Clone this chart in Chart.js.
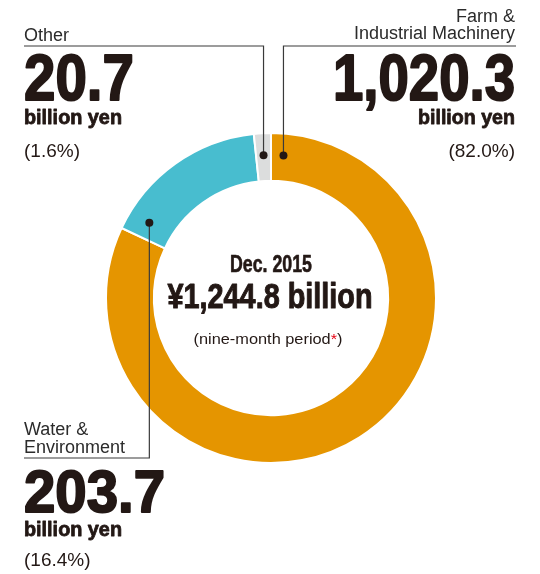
<!DOCTYPE html>
<html><head><meta charset="utf-8">
<script src="https://cdn.jsdelivr.net/npm/chart.js@4/dist/chart.umd.min.js"></script>
<style>html,body{margin:0;padding:0;background:#fff;} #wrap{position:relative;width:540px;height:574px;}</style>
</head><body><div id="wrap"><canvas id="c" width="540" height="574"></canvas></div>
<script>
// ---- data ----
const categories = [['Farm &', 'Industrial Machinery'], ['Water &', 'Environment'], ['Other']];
const values = [1020.3, 203.7, 20.7];          // billion yen
const shares = [82.0, 16.4, 1.6];              // percent
const totalValue = 1244.8;                     // billion yen
const periodLabel = 'Dec. 2015';
const periodNote = '(nine-month period';
const unitLabel = 'billion yen';

// ---- styles ----
const colors = ['#E59500', '#48BDCF', '#DCDDDD'];
const TXT = '#231815';
const LINE = '#3a3a3a';
const FONT = '"Liberation Sans", Arial, Helvetica, sans-serif';

// label layout (style only)
const layout = [
  { align: 'right', x: 515, nameY: [22, 39], elbowY: 46, endX: 516, angOff: 5, numY: 100, numW: 182, numSize: 65, unitY: 124, unitW: 97, pctY: 157 },
  { align: 'left',  x: 24,  nameY: [435, 453], elbowY: 458, endX: 24, angOff: 6.6, numY: 512, numW: 141, numSize: 60, unitY: 536, unitW: 98, pctY: 566 },
  { align: 'left',  x: 24,  nameY: [41], elbowY: 46, endX: 24, angOff: null, numY: 100, numW: 110, numSize: 65, unitY: 124, unitW: 98, pctY: 157 }
];

function fmt(v) { return v.toLocaleString('en-US', { minimumFractionDigits: 1, maximumFractionDigits: 1 }); }

function drawText(ctx, s, x, y, o) {
  ctx.font = (o.weight || 'normal') + ' ' + o.size + 'px ' + FONT;
  const m = ctx.measureText(s).width;
  const sx = o.width ? o.width / m : (o.sx || 1);
  const w = m * sx;
  const left = o.align === 'right' ? x - w : (o.align === 'center' ? x - w / 2 : x);
  ctx.save();
  ctx.translate(left, y);
  ctx.scale(sx, 1);
  ctx.textAlign = 'left';
  ctx.textBaseline = 'alphabetic';
  ctx.fillStyle = o.color || TXT;
  ctx.fillText(s, 0, 0);
  if (o.stroke) {
    ctx.strokeStyle = o.color || TXT;
    ctx.lineWidth = o.stroke;
    ctx.lineJoin = 'round';
    ctx.strokeText(s, 0, 0);
  }
  ctx.restore();
  return w;
}

const annotate = {
  id: 'annotate',
  afterDraw(chart) {
    const ctx = chart.ctx;
    const arcs = chart.getDatasetMeta(0).data;
    arcs.forEach((arc, i) => {
      const L = layout[i];
      const a = L.angOff === null ? (arc.startAngle + arc.endAngle) / 2 : arc.startAngle + L.angOff * Math.PI / 180;
      const r = arc.innerRadius + 0.54 * (arc.outerRadius - arc.innerRadius);
      const px = arc.x + r * Math.cos(a), py = arc.y + r * Math.sin(a);
      // leader line
      ctx.save();
      ctx.strokeStyle = LINE; ctx.lineWidth = 1.2;
      ctx.beginPath();
      ctx.moveTo(px, py); ctx.lineTo(px, L.elbowY); ctx.lineTo(L.endX, L.elbowY);
      ctx.stroke();
      ctx.fillStyle = TXT;
      ctx.beginPath(); ctx.arc(px, py, 4, 0, Math.PI * 2); ctx.fill();
      ctx.restore();
      // name
      categories[i].forEach((line, k) => drawText(ctx, line, L.x, L.nameY[k], { size: 18, align: L.align, color: '#2b2b2b' }));
      // number
      drawText(ctx, fmt(values[i]), L.x, L.numY, { size: L.numSize, weight: 'bold', align: L.align, width: L.numW, stroke: 2 });
      drawText(ctx, unitLabel, L.x, L.unitY, { size: 20, weight: 'bold', align: L.align, width: L.unitW, stroke: 0.8 });
      drawText(ctx, '(' + fmt(shares[i]) + '%)', L.x, L.pctY, { size: 19, align: L.align });
    });
    // centre
    const cx = arcs[0].x;
    drawText(ctx, periodLabel, cx, 272, { size: 23, weight: 'bold', align: 'center', width: 82, stroke: 0.6 });
    drawText(ctx, '¥' + fmt(totalValue) + ' billion', cx - 1, 308, { size: 35, weight: 'bold', align: 'center', width: 205, stroke: 1 });
    // note with red asterisk
    ctx.font = '15px ' + FONT;
    const p1 = periodNote, p2 = '*', p3 = ')';
    const w1 = ctx.measureText(p1).width, w2 = ctx.measureText(p2).width, w3 = ctx.measureText(p3).width;
    const sx = 149 / (w1 + w2 + w3);
    let x0 = cx - 3 - 149 / 2;
    x0 += drawText(ctx, p1, x0, 344, { size: 15, sx: sx });
    x0 += drawText(ctx, p2, x0, 344, { size: 15, sx: sx, color: '#E60012' });
    drawText(ctx, p3, x0, 344, { size: 15, sx: sx });
  }
};

new Chart(document.getElementById('c'), {
  type: 'doughnut',
  data: {
    labels: categories.map(c => c.join(' ')),
    datasets: [{ data: values, backgroundColor: colors, borderColor: '#ffffff', borderWidth: 2, hoverOffset: 0 }]
  },
  options: {
    responsive: false,
    animation: false,
    cutout: '71%',
    rotation: 0,
    layout: { padding: { left: 105, right: 103, top: 132, bottom: 110 } },
    plugins: { legend: { display: false }, tooltip: { enabled: false } }
  },
  plugins: [annotate]
});
</script>
</body></html>
